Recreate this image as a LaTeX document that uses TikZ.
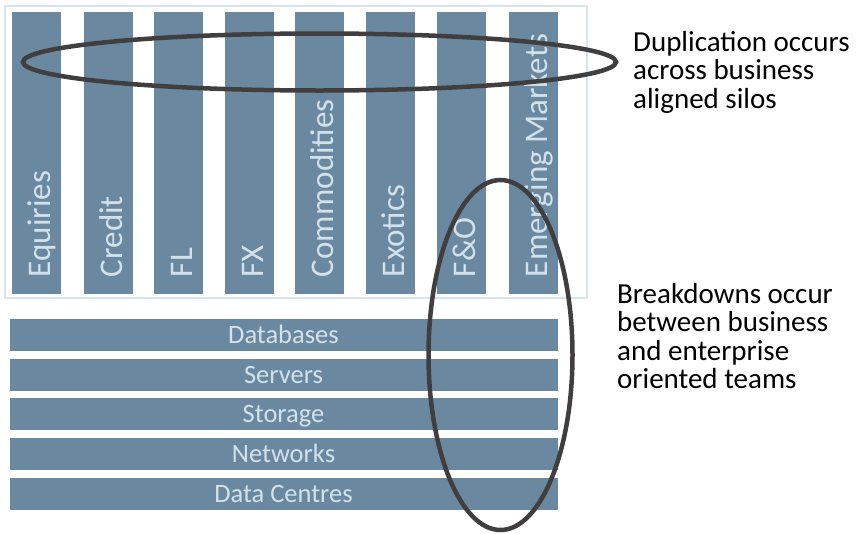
\documentclass[tikz,border=0pt]{standalone}
\usepackage{fontspec}
\setmainfont{Carlito}
\usepackage{tikz}
\usetikzlibrary{shapes.geometric}
\definecolor{siloblue}{RGB}{106,137,161}
\definecolor{silotext}{RGB}{211,225,235}
\definecolor{framegray}{RGB}{215,228,237}
\definecolor{ringgray}{RGB}{64,62,62}

\tikzset{
  silo/.style={fill=siloblue, minimum width=49pt, minimum height=282pt, inner sep=0pt},
  silolabel/.style={rotate=90, anchor=base west, inner sep=0pt, text=silotext,
    font=\fontsize{33}{33}\selectfont},
  layer/.style={fill=siloblue, minimum width=548pt, minimum height=32pt, inner sep=0pt,
    text=silotext, text height=17pt, text depth=0pt, font=\fontsize{26.5}{26.5}\selectfont},
  ring/.style={ellipse, draw=ringgray, line width=4.5pt, inner sep=0pt},
  note/.style={anchor=north west, inner sep=0pt, align=left,
    font=\fontsize{29}{28.5}\selectfont}
}

\begin{document}
\begin{tikzpicture}[x=1pt, y=-1pt]
    \useasboundingbox (0,0) rectangle (856,533);

    % Business silos
    \draw[framegray, line width=2pt] (5,6) rectangle (587,298);
    \node[silo] (eq) at (36.5,153) {};
    \node[silo] (cr) at (108.5,153) {};
    \node[silo] (fl) at (178.5,153) {};
    \node[silo] (fx) at (249.5,153) {};
    \node[silo] (co) at (319.5,153) {};
    \node[silo] (ex) at (390.5,153) {};
    \node[silo] (fo) at (461.5,153) {};
    \node[silo] (em) at (533.5,153) {};

    \node[silolabel] (eqlbl) at ([xshift=14pt,yshift=17pt]eq.south) {Equiries};
    \node[silolabel] (crlbl) at ([xshift=14pt,yshift=17pt]cr.south) {Credit};
    \node[silolabel] (fllbl) at ([xshift=14pt,yshift=17pt]fl.south) {FL};
    \node[silolabel] (fxlbl) at ([xshift=14pt,yshift=17pt]fx.south) {FX};
    \node[silolabel] (colbl) at ([xshift=14pt,yshift=17pt]co.south) {Commodities};
    \node[silolabel] (exlbl) at ([xshift=14pt,yshift=17pt]ex.south) {Exotics};
    \node[silolabel] (folbl) at ([xshift=14pt,yshift=17pt]fo.south) {F\&O};
    \node[silolabel] (emlbl) at ([xshift=14pt,yshift=17pt]em.south) {Emerging Markets};

    % Enterprise layers
    \node[layer] (db) at (283.5,335) {Databases};
    \node[layer] (sv) at (283.5,375) {Servers};
    \node[layer] (st) at (283.5,414) {Storage};
    \node[layer] (nw) at (283.5,454) {Networks};
    \node[layer] (dc) at (283.5,494) {Data Centres};

    % Rings
    \node[ring, minimum width=593pt, minimum height=57pt] (dup) at (319.5,62) {};
    \node[ring, minimum width=144pt, minimum height=350pt] (brk) at (500.5,355) {};

    \node[note] (dupnote) at (633,31) {Duplication occurs\\across business\\aligned silos};
    \node[note] (brknote) at (617,283) {Breakdowns occur\\between business\\and enterprise\\oriented teams};
\end{tikzpicture}
\end{document}
